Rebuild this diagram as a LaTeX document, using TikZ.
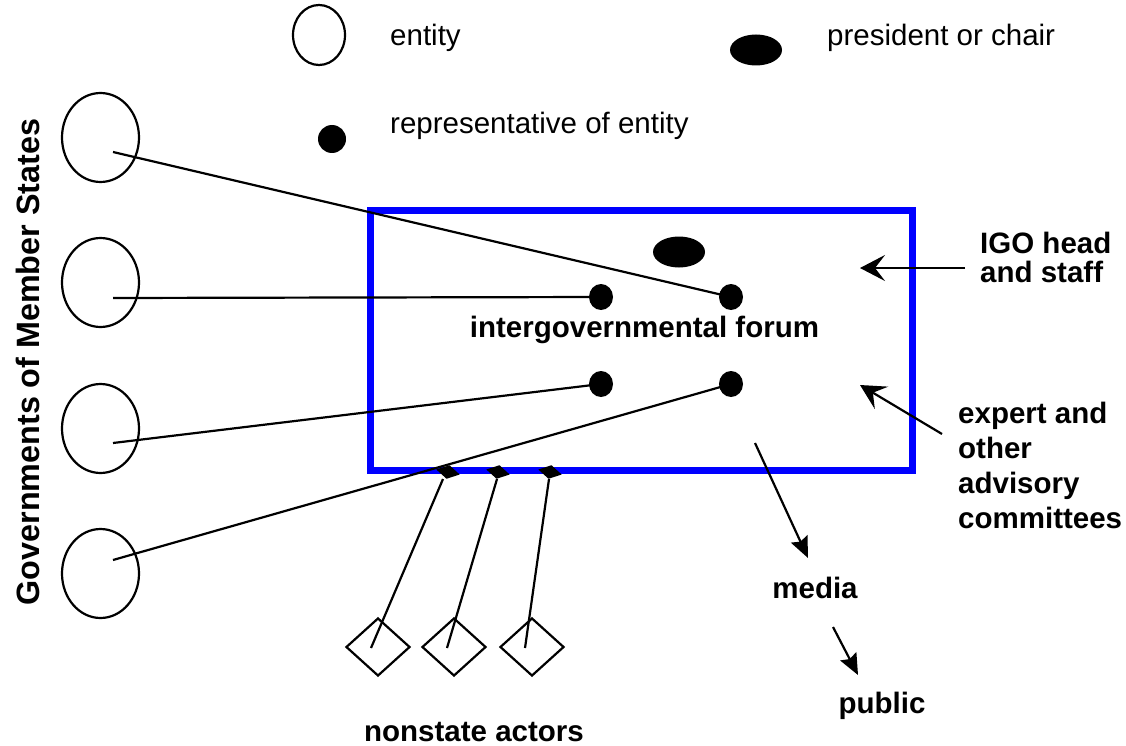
\documentclass[tikz,border=0pt]{standalone}
\usepackage{fontspec}
\setmainfont{Liberation Sans}
\usetikzlibrary{shapes.geometric,arrows.meta}
\begin{document}
\begin{tikzpicture}[x=1pt,y=-1pt,
  entity/.style={ellipse,draw,line width=2.2pt,inner sep=0pt,minimum width=77pt,minimum height=89pt},
  legent/.style={ellipse,draw,line width=2.2pt,inner sep=0pt,minimum width=52pt,minimum height=60pt},
  rep/.style={ellipse,fill,inner sep=0pt,minimum width=24pt,minimum height=26pt},
  chair/.style={ellipse,fill,inner sep=0pt,minimum width=52pt,minimum height=31pt},
  actor/.style={diamond,draw,line width=2.2pt,inner sep=0pt,minimum width=64pt,minimum height=58pt},
  seat/.style={diamond,fill,inner sep=0pt,minimum width=24pt,minimum height=14pt,rotate=-12},
  link/.style={line width=2.2pt},
  bigarrow/.style={line width=2.2pt,-{Stealth[length=25pt,width=26pt,inset=10pt]}},
  smallarrow/.style={line width=2.2pt,-{Stealth[length=21pt,width=18pt,inset=3pt]}},
  lbl/.style={font=\fontsize{29.5}{34}\selectfont,inner sep=0pt},
  blbl/.style={font=\fontsize{29.5}{34}\selectfont\bfseries,inner sep=0pt},
]
\useasboundingbox (0,0) rectangle (1126,746);

% legend
\node[legent] (lgent) at (319,35) {};
\node[lbl,anchor=base west] (lgenttxt) at (390,46) {entity};
\node[chair] (lgchair) at (756,50) {};
\node[lbl,anchor=base west] (lgchairtxt) at (827,46) {president or chair};
\node[ellipse,fill,inner sep=0pt,minimum width=28pt,minimum height=28pt] (lgrep) at (332,139) {};
\node[lbl,anchor=base west] (lgreptxt) at (390,134) {representative of entity};

% the forum
\node[draw=blue,line width=7pt,inner sep=0pt,minimum width=542pt,minimum height=260pt] (forum) at (641,340) {};
\node[chair] (chair) at (679,252) {};
\node[blbl,anchor=base] (forumtxt) at (644.5,337) {intergovernmental forum};

% member state governments
\node[entity] (g1) at (100.5,137.5) {};
\node[entity] (g2) at (100.5,282.5) {};
\node[entity] (g3) at (100.5,428.5) {};
\node[entity] (g4) at (100.5,573.5) {};
\coordinate (g1c) at (113,152);
\coordinate (g2c) at (113,298);
\coordinate (g3c) at (113,443);
\coordinate (g4c) at (113,560);
\node[blbl,font=\fontsize{32.3}{36}\selectfont\bfseries,rotate=90,anchor=base] (govtxt) at (39,362) {Governments of Member States};

% delegates' seats
\coordinate (d1p) at (601,297);
\coordinate (d2p) at (731,297);
\coordinate (d3p) at (601,384);
\coordinate (d4p) at (731,384);
\draw[link] (g1c) -- (d2p);
\draw[link] (g2c) -- (d1p);
\draw[link] (g3c) -- (d3p);
\draw[link] (g4c) -- (d4p);
\node[rep] (d1) at (d1p) {};
\node[rep] (d2) at (d2p) {};
\node[rep] (d3) at (d3p) {};
\node[rep] (d4) at (d4p) {};

% staff and committees (base anchor sits on the last line)
\node[blbl,anchor=base west,align=left,font=\fontsize{29.5}{28.5}\selectfont\bfseries] (igo) at (980,282) {IGO head\\and staff};
\node[blbl,anchor=base west,align=left,font=\fontsize{29.5}{35}\selectfont\bfseries] (expert) at (958,528) {expert and\\other\\advisory\\committees};
\coordinate (igoS) at (965,268);
\coordinate (igoE) at (860,268);
\coordinate (expS) at (942,434);
\coordinate (expE) at (860,385);
\draw[bigarrow] (igoS) -- (igoE);
\draw[bigarrow] (expS) -- (expE);

% media and public
\node[blbl,anchor=base] (media) at (815,598) {media};
\node[blbl,anchor=base] (public) at (882,713) {public};
\coordinate (medS) at (755,443);
\coordinate (medE) at (808,558);
\coordinate (pubS) at (833,627);
\coordinate (pubE) at (858,675);
\draw[smallarrow] (medS) -- (medE);
\draw[smallarrow] (pubS) -- (pubE);

% nonstate actors
\node[actor] (n1) at (378,647) {};
\node[actor] (n2) at (454,647) {};
\node[actor] (n3) at (532,647) {};
\coordinate (n1c) at (371,648);
\coordinate (n2c) at (447,648);
\coordinate (n3c) at (525,648);
\coordinate (s1c) at (443,479);
\coordinate (s2c) at (497,479);
\coordinate (s3c) at (549,479);
\draw[link] (s1c) -- (n1c);
\draw[link] (s2c) -- (n2c);
\draw[link] (s3c) -- (n3c);
\node[seat] (s1) at (448,472) {};
\node[seat] (s2) at (498,472) {};
\node[seat] (s3) at (550,472) {};
\node[blbl,anchor=base] (nsa) at (474,741) {nonstate actors};
\end{tikzpicture}
\end{document}
